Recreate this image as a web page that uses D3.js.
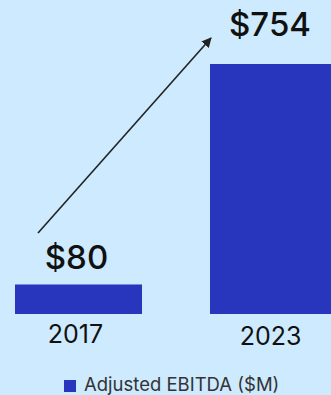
<!DOCTYPE html>
<meta charset="utf-8">
<style>
  body { margin: 0; background: #cdeafe; }
  svg text { font-family: Inter, Roboto, sans-serif; }
</style>
<svg width="331" height="395"></svg>
<script src="https://d3js.org/d3.v7.min.js"></script>
<script>
  var years = ["2017", "2023"];
  var ebitda = [80, 754];
  var valueLabels = ["$80", "$754"];
  var legendLabel = "Adjusted EBITDA ($M)";

  var svg = d3.select("svg"),
      barColor = "#2836be";

  svg.append("rect").attr("width", 331).attr("height", 395).attr("fill", "#cdeafe");

  var x = d3.scaleBand()
      .domain(years)
      .range([15, 337])
      .paddingInner(68 / 195)
      .paddingOuter(0);

  var y = d3.scaleLinear()
      .domain([0, 754])
      .range([314, 64]);

  var data = years.map((d, i) => ({year: d, value: ebitda[i], label: valueLabels[i]}));

  svg.selectAll(".bar")
      .data(data)
      .enter().append("rect")
      .attr("class", "bar")
      .attr("x", d => x(d.year))
      .attr("y", d => y(d.value) - (d.value < 100 ? 3 : 0))
      .attr("width", x.bandwidth())
      .attr("height", d => y(0) - y(d.value) + (d.value < 100 ? 3 : 0))
      .attr("fill", barColor);

  // category labels
  svg.selectAll(".cat")
      .data(data)
      .enter().append("text")
      .attr("class", "cat")
      .attr("x", d => x(d.year) + x.bandwidth() / 2 - 3)
      .attr("y", d => d.value < 100 ? 343 : 345)
      .attr("text-anchor", "middle")
      .attr("font-size", 25)
      .attr("fill", "#111")
      .text(d => d.year);

  // value labels
  svg.append("text")
      .attr("x", x(years[0]) + x.bandwidth() / 2 - 2)
      .attr("y", 269)
      .attr("text-anchor", "middle")
      .attr("font-size", 33)
      .attr("font-weight", 500)
      .attr("fill", "#111")
      .text(valueLabels[0]);

  svg.append("text")
      .attr("x", 270)
      .attr("y", 36)
      .attr("text-anchor", "middle")
      .attr("font-size", 33)
      .attr("font-weight", 500)
      .attr("fill", "#111")
      .text(valueLabels[1]);

  // arrow
  svg.append("defs").append("marker")
      .attr("id", "arrow")
      .attr("viewBox", "0 0 10 10")
      .attr("refX", 9).attr("refY", 5)
      .attr("markerWidth", 10).attr("markerHeight", 10)
      .attr("markerUnits", "userSpaceOnUse")
      .attr("orient", "auto")
      .append("path")
      .attr("d", "M0,0L10,5L0,10z")
      .attr("fill", "#222");

  svg.append("line")
      .attr("x1", 38).attr("y1", 233)
      .attr("x2", 211).attr("y2", 38)
      .attr("stroke", "#222")
      .attr("stroke-width", 1.6)
      .attr("marker-end", "url(#arrow)");

  // legend
  var legend = svg.append("g").attr("transform", "translate(64,380)");
  legend.append("rect").attr("width", 12).attr("height", 12).attr("fill", barColor);
  legend.append("text")
      .attr("x", 20).attr("y", 10.5)
      .attr("font-size", 18.5)
      .attr("font-family", "Roboto, sans-serif")
      .attr("fill", "#333")
      .text(legendLabel);
</script>
